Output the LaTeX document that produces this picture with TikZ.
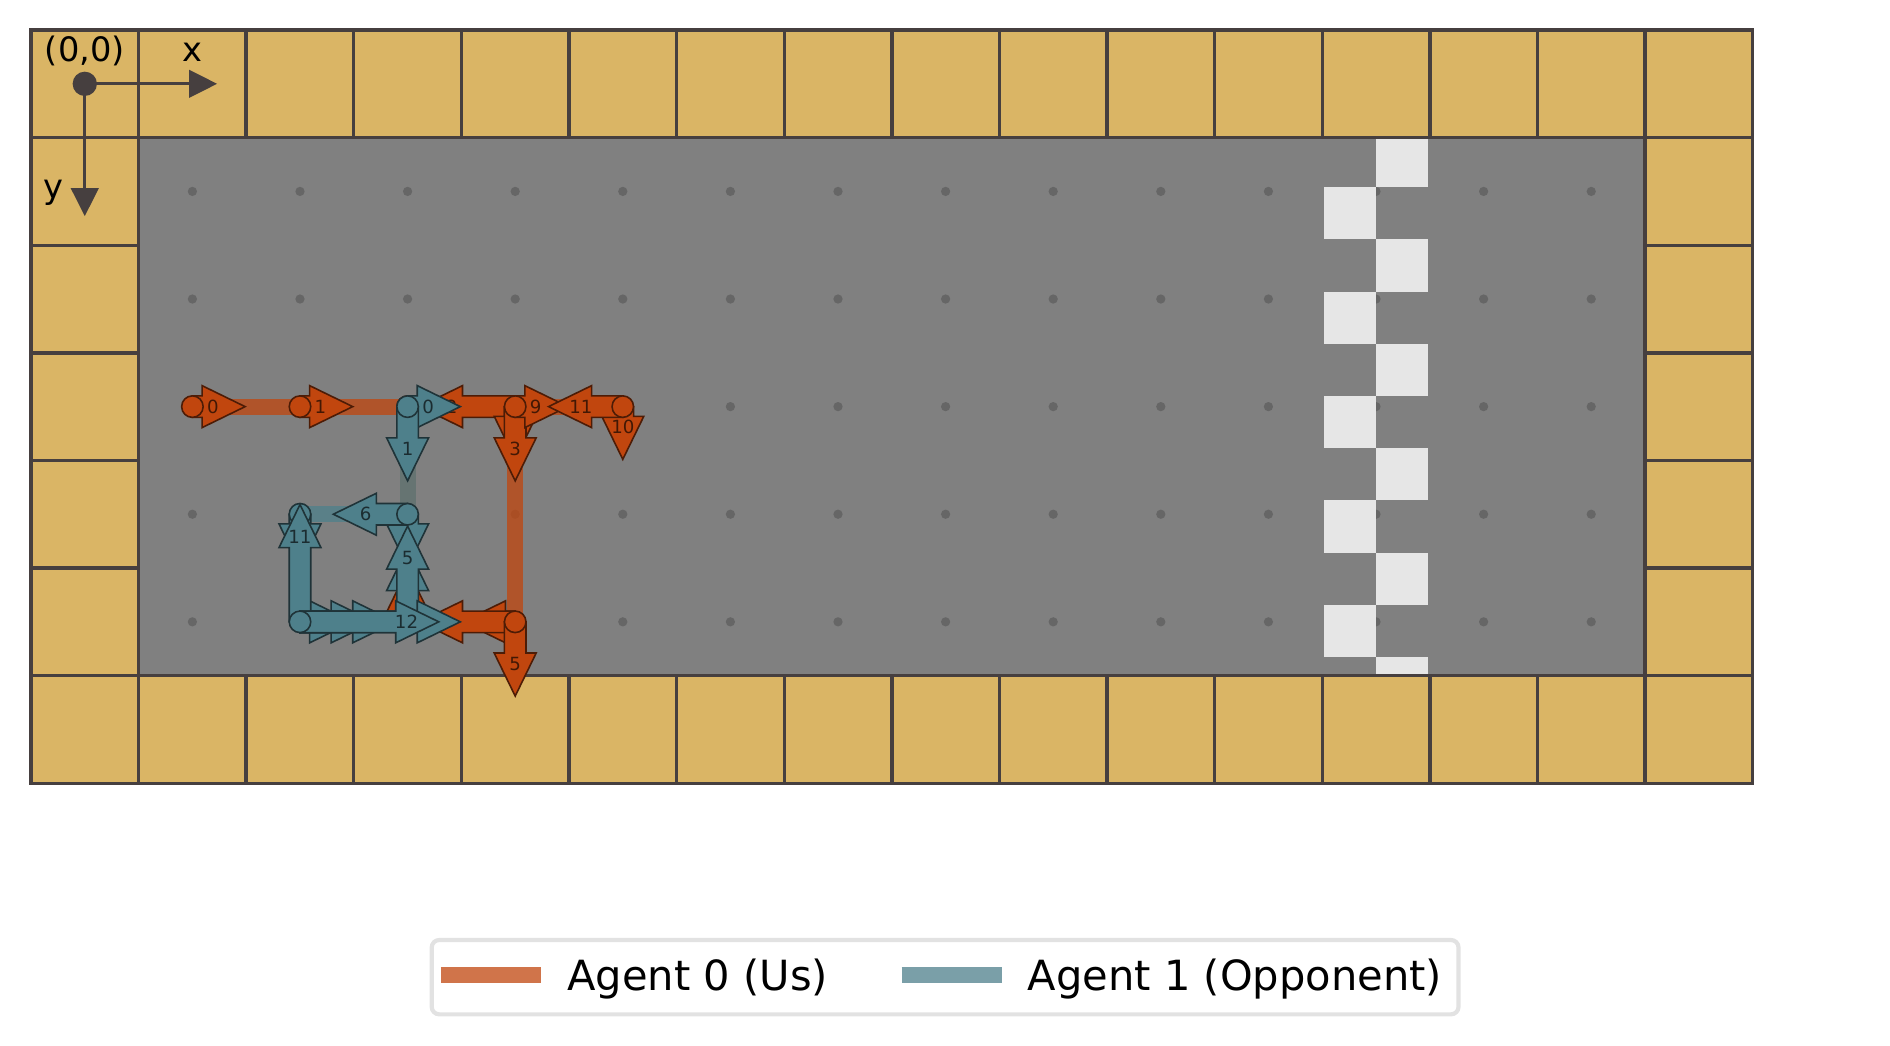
\documentclass[tikz,border=0pt]{standalone}
\usepackage{fontspec}
\setmainfont{DejaVu Sans}
\usetikzlibrary{arrows.meta}
\definecolor{us}{HTML}{C1460E}
\definecolor{opp}{HTML}{4E808B}
\definecolor{tile}{HTML}{DAB565}
\definecolor{tileedge}{HTML}{463F3F}
\definecolor{floor}{HTML}{808080}
\definecolor{finish}{HTML}{E6E6E6}
\definecolor{gridpt}{HTML}{666666}
\definecolor{legendedge}{HTML}{E2E2E2}

% one step of an agent: colour, x, y, angle, length, label
\newcommand{\steparrow}[6]{%
  \begin{scope}[shift={(#2,#3)},rotate=#4]
    \filldraw[fill=#1,draw=#1!40!black,line width=0.42pt]
      (0,-0.1) -- ({#5-0.4},-0.1) -- ({#5-0.4},-0.195) -- (#5,0)
      -- ({#5-0.4},0.195) -- ({#5-0.4},0.1) -- (0,0.1) -- cycle;
    \if\relax\detokenize{#6}\relax\else
      \node[steplabel] (#1#6) at ({#5-0.3},0) {#6};
    \fi
  \end{scope}}
\newcommand{\stepdot}[3]{%
  \filldraw[fill=#1,draw=#1!40!black,line width=0.42pt] (#2,#3) circle (0.1);}

\begin{document}
\begin{tikzpicture}[x=1cm,y=-1cm,
  tilebox/.style={fill=tile,draw=tileedge,line width=0.9pt},
  trail/.style={line width=0.148cm,opacity=0.75,line join=round},
  steplabel/.style={font=\fontsize{4.8}{5.5}\selectfont,text=black,text opacity=0.65,inner sep=0pt},
  axislabel/.style={font=\fontsize{8.9}{10}\selectfont,anchor=base,inner sep=0pt},
  axisarrow/.style={draw=tileedge,line width=0.85pt,-{Triangle[length=0.26cm,width=0.254cm]}},
  legendtext/.style={font=\fontsize{11}{13}\selectfont,anchor=base west,inner sep=0pt}]
  \useasboundingbox (-0.788,-0.779) rectangle (16.777,8.933);

  % track floor and grid points
  \fill[floor] (0.5,0.5) rectangle (14.5,5.5);
  \foreach \c in {1,...,14} {
    \foreach \r in {1,...,5} {
      \fill[gridpt] (\c,\r) circle (0.043);
    }
  }
  % finish line
  \begin{scope}
    \clip (0.5,0.5) rectangle (14.5,5.5);
    \foreach \k in {0,...,10} {
      \pgfmathsetmacro\ytop{0.476+0.485*\k}
      \pgfmathsetmacro\xl{isodd(\k) ? 11.515 : 12}
      \fill[finish] (\xl,\ytop) rectangle ++(0.485,0.485);
    }
  \end{scope}
  % walls
  \foreach \c in {0,...,15} {
    \draw[tilebox] (\c-0.5,-0.5) rectangle ++(1,1);
    \draw[tilebox] (\c-0.5,5.5) rectangle ++(1,1);
  }
  \foreach \r in {1,...,5} {
    \draw[tilebox] (-0.5,\r-0.5) rectangle ++(1,1);
    \draw[tilebox] (14.5,\r-0.5) rectangle ++(1,1);
  }

  % trails
  \draw[trail,us] (1,3) -- (4,3) -- (4,5) -- (3,5) -- (3,3) -- (5,3);
  \draw[trail,opp] (3,3) -- (3,5) -- (3,4) -- (2,4) -- (2,5) -- (3,5);

  % agent 0
  \steparrow{us}{1}{3}{0}{0.49}{0}
  \stepdot{us}{1}{3}
  \steparrow{us}{2}{3}{0}{0.49}{1}
  \stepdot{us}{2}{3}
  \steparrow{us}{4}{3}{180}{0.89}{2}
  \steparrow{us}{4}{3}{-90}{0.49}{}
  \steparrow{us}{4}{3}{-90}{0.69}{3}
  \steparrow{us}{4}{5}{180}{0.49}{}
  \steparrow{us}{4}{5}{180}{0.89}{}
  \steparrow{us}{4}{5}{-90}{0.69}{5}
  \steparrow{us}{3}{5}{90}{0.49}{}
  \steparrow{us}{4}{3}{0}{0.49}{9}
  \steparrow{us}{5}{3}{-90}{0.49}{10}
  \steparrow{us}{5}{3}{180}{0.69}{11}
  \foreach \x/\y in {3/3,4/3,5/3,4/5,3/5} {
    \stepdot{us}{\x}{\y}
  }

  % agent 1
  \steparrow{opp}{3}{3}{0}{0.49}{0}
  \steparrow{opp}{3}{3}{-90}{0.69}{1}
  \stepdot{opp}{3}{3}
  \steparrow{opp}{3}{4}{-90}{0.49}{}
  \steparrow{opp}{3}{5}{90}{0.69}{}
  \steparrow{opp}{3}{5}{90}{0.89}{5}
  \steparrow{opp}{3}{4}{180}{0.69}{6}
  \stepdot{opp}{3}{4}
  \steparrow{opp}{2}{4}{-90}{0.49}{}
  \stepdot{opp}{2}{4}
  \foreach \len in {0.49,0.69,0.89} {
    \steparrow{opp}{2}{5}{0}{\len}{}
  }
  \steparrow{opp}{2}{5}{90}{1.09}{11}
  \steparrow{opp}{2}{5}{0}{1.49}{}
  \steparrow{opp}{2}{5}{0}{1.29}{12}
  \stepdot{opp}{2}{5}

  % axes
  \node[circle,fill=tileedge,inner sep=0pt,minimum size=0.226cm] (origin) at (0,0) {};
  \coordinate (xtip) at (1.23,0);
  \coordinate (ytip) at (0,1.23);
  \draw[axisarrow] (origin.center) -- (xtip);
  \draw[axisarrow] (origin.center) -- (ytip);
  \node[axislabel] (originlabel) at (0,-0.205) {(0,0)};
  \node[axislabel] (xlabel) at (1.003,-0.205) {x};
  \node[axislabel] (ylabel) at (-0.293,1.064) {y};

  % legend
  \draw[legendedge,line width=1.1pt,fill=white,rounded corners=0.07cm]
    (3.224,7.957) rectangle (12.767,8.648);
  \coordinate (usA) at (3.31,8.285);
  \coordinate (usB) at (4.24,8.285);
  \coordinate (oppA) at (7.591,8.285);
  \coordinate (oppB) at (8.521,8.285);
  \draw[trail,us] (usA) -- (usB);
  \node[legendtext] (uslegend) at (4.478,8.422) {Agent 0 (Us)};
  \draw[trail,opp] (oppA) -- (oppB);
  \node[legendtext] (opplegend) at (8.757,8.422) {Agent 1 (Opponent)};
\end{tikzpicture}
\end{document}
